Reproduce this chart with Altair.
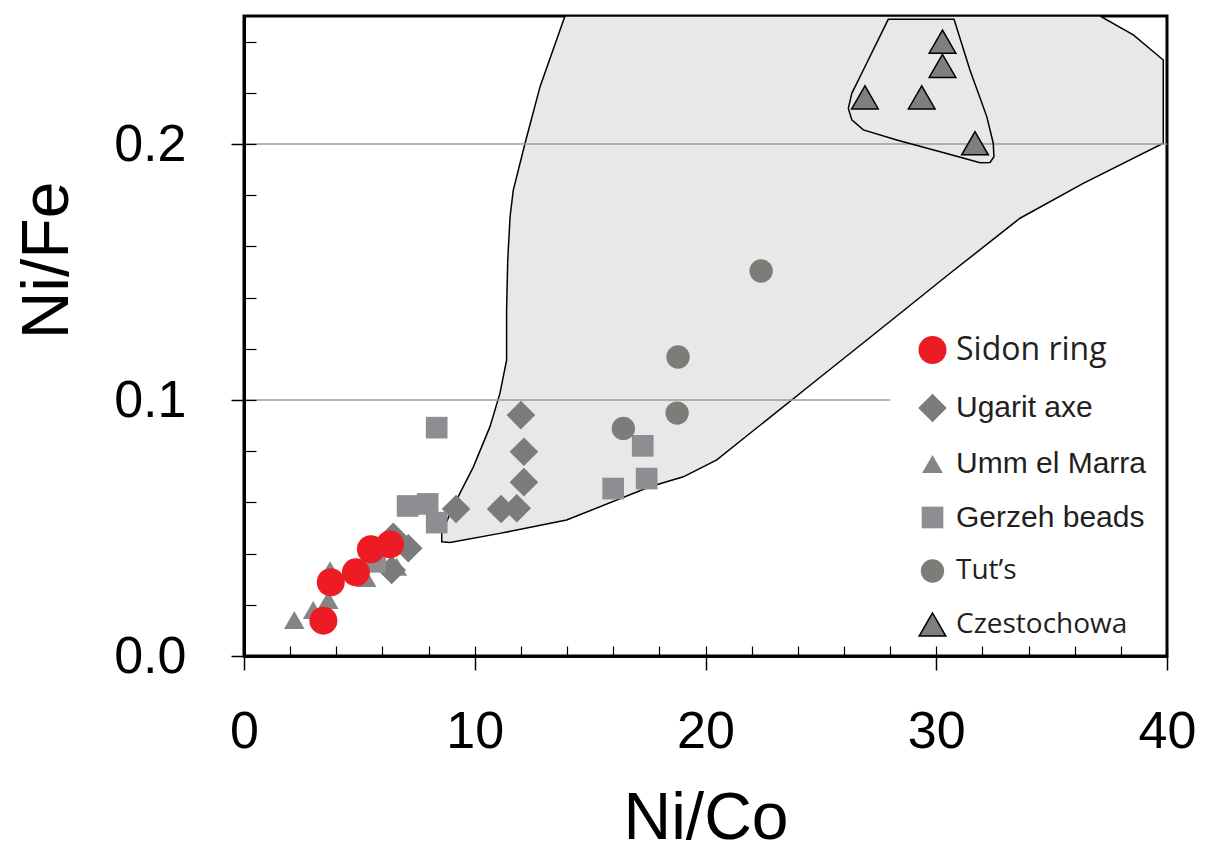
import altair as alt
import pandas as pd

# ---- data ----
sidon_x = [3.44, 3.76, 4.85, 5.50, 6.33]
sidon_y = [0.0138, 0.0288, 0.0327, 0.0417, 0.0436]
ugarit_x = [12.00, 12.13, 12.13, 9.19, 11.14, 11.82, 7.12, 6.40, 6.47]
ugarit_y = [0.0941, 0.0798, 0.0679, 0.0574, 0.0574, 0.0577, 0.0421, 0.0336, 0.0466]
umm_x = [2.18, 3.00, 3.65, 3.73, 5.29, 6.62]
umm_y = [0.0141, 0.0180, 0.0219, 0.0335, 0.0305, 0.0349]
gerzeh_x = [8.35, 17.28, 16.00, 17.45, 7.09, 7.96, 8.35, 5.68]
gerzeh_y = [0.0892, 0.0821, 0.0654, 0.0693, 0.0586, 0.0594, 0.0521, 0.0368]
tut_x = [22.41, 18.81, 18.77, 16.44]
tut_y = [0.1504, 0.1168, 0.0949, 0.0889]
czest_x = [30.27, 30.27, 26.91, 29.37, 31.68]
czest_y = [0.2400, 0.2305, 0.2182, 0.2182, 0.2003]

# outlined field (shaded region)
field_x = [13.91, 37.10, 38.54, 39.84, 39.84, 36.37, 33.63, 30.60, 27.71, 24.82, 21.93,
           20.49, 19.04, 17.59, 13.98, 11.09, 8.93, 8.57, 8.57, 8.93, 9.36, 9.94, 10.66,
           11.09, 11.38, 11.38, 11.43, 11.53, 11.67, 12.18, 12.83]
field_y = [0.25, 0.25, 0.2426, 0.2328, 0.2003, 0.1846, 0.171, 0.1495, 0.1286, 0.1078, 0.087,
           0.0766, 0.07, 0.0661, 0.0531, 0.0479, 0.0443, 0.0446, 0.0479, 0.0557, 0.0636, 0.0739,
           0.0896, 0.1026, 0.1156, 0.1352, 0.1547, 0.1716, 0.182, 0.2003, 0.2224]
# Czestochowa outline
cz_x = [27.92, 30.77, 31.46, 32.19, 32.47, 32.50, 32.33, 31.90, 30.45, 28.29, 26.84, 26.34,
        26.19, 26.34, 26.84]
cz_y = [0.2487, 0.2487, 0.2289, 0.2107, 0.2003, 0.195, 0.1928, 0.1927, 0.1963, 0.2016, 0.2055,
        0.2094, 0.2139, 0.2198, 0.2289]

grid_y = [0.2, 0.1]
grid_x_end = [40, 28]

x_major = [0, 10, 20, 30, 40]
x_minor = list(range(0, 41, 2))
y_major = [0.0, 0.1, 0.2]
y_minor = [round(v * 0.02, 2) for v in range(13)]

groups = ["Sidon ring", "Ugarit axe", "Umm el Marra", "Gerzeh beads", "Tut\u2019s", "Czestochowa"]
colors = ["#ed1c24", "#7b7b7b", "#858585", "#8e8e92", "#7c7c79", "#7f7f7f"]
shapes = ["circle", "diamond", "triangle-up", "square", "circle", "triangle-up"]
sizes = [784, 820, 430, 470, 545, 710]
strokes = ["transparent", "transparent", "transparent", "transparent", "transparent", "black"]

# ---- tables ----
draw_order = [
    ("Umm el Marra", umm_x, umm_y),
    ("Ugarit axe", ugarit_x, ugarit_y),
    ("Gerzeh beads", gerzeh_x, gerzeh_y),
    ("Tut\u2019s", tut_x, tut_y),
    ("Czestochowa", czest_x, czest_y),
    ("Sidon ring", sidon_x, sidon_y),
]
rows = []
for g, xs, ys in draw_order:
    for a, b in zip(xs, ys):
        rows.append({"group": g, "nico": a, "nife": b})
pts = pd.DataFrame(rows)
field = pd.DataFrame({"x": field_x, "y": field_y, "i": list(range(len(field_x)))})
czo = pd.DataFrame({"x": cz_x, "y": cz_y, "i": list(range(len(cz_x)))})
grid = pd.DataFrame({"gy": grid_y, "x0": [0] * len(grid_y), "x1": grid_x_end})

xscale = alt.Scale(domain=[0, 40], nice=False, zero=False)
yscale = alt.Scale(domain=[0, 0.25], nice=False, zero=False)
FONT = "Liberation Sans"

main_x_axis = alt.Axis(orient="bottom", values=x_major, tickSize=14, tickWidth=1.5, tickColor="black",
                       domainColor="black", domainWidth=3, labelFont=FONT, labelFontSize=52,
                       labelColor="black", labelPadding=36, labelFlush=False, labelOverlap=False,
                       grid=False, title="Ni/Co", titleFont=FONT, titleFontSize=66,
                       titleFontWeight="normal", titleColor="black", titleY=182,
                       titleBaseline="alphabetic", zindex=1)
main_y_axis = alt.Axis(orient="left", values=y_major, format=".1f", tickSize=13, tickWidth=1.5,
                       tickColor="black", domainColor="black", domainWidth=3, labelFont=FONT,
                       labelFontSize=52, labelColor="black", labelPadding=45, labelOverlap=False,
                       labelFlush=False, grid=False, title="Ni/Fe", titleFont=FONT, titleFontSize=66,
                       titleFontWeight="normal", titleColor="black", titleX=-177, titleY=244,
                       titleAngle=270, titleAlign="center", titleBaseline="alphabetic", zindex=1)
minor_x_axis = alt.Axis(orient="bottom", values=x_minor, tickSize=10, tickWidth=1.2, tickColor="black",
                        offset=-10, labels=False, domain=False, grid=False, title=None, zindex=1)
minor_y_axis = alt.Axis(orient="left", values=y_minor, tickSize=12, tickWidth=1.2, tickColor="black",
                        offset=-12, labels=False, domain=False, grid=False, title=None, zindex=1)

region = alt.Chart(field).mark_line(
    interpolate="linear-closed", fill="#e8e8e8", stroke="black", strokeWidth=1.5
).encode(
    x=alt.X("x:Q", scale=xscale, axis=main_x_axis),
    y=alt.Y("y:Q", scale=yscale, axis=main_y_axis),
    order=alt.Order("i:Q"),
)

gridlines = alt.Chart(grid).mark_rule(color="#9b9b9b", strokeWidth=1.5).encode(
    x=alt.X("x0:Q", scale=xscale, axis=None),
    x2="x1:Q",
    y=alt.Y("gy:Q", scale=yscale, axis=None),
)

cz_outline = alt.Chart(czo).mark_line(
    interpolate="linear-closed", stroke="black", strokeWidth=1.5
).encode(
    x=alt.X("x:Q", scale=xscale, axis=None),
    y=alt.Y("y:Q", scale=yscale, axis=None),
    order=alt.Order("i:Q"),
)

label_font = ("indexof(['Sidon ring','Tut\u2019s','Czestochowa'], datum.value) >= 0 "
              "? 'Open Sans' : 'Liberation Sans'")
label_size = ("datum.value == 'Sidon ring' ? 32 : "
              "(datum.value == 'Tut\u2019s' || datum.value == 'Czestochowa' ? 28 : 30)")
label_text = ("(datum.value == 'Tut\u2019s' || datum.value == 'Czestochowa') "
              "? ' ' + datum.label : datum.label")

legend = alt.Legend(orient="none", legendX=673, legendY=319, title=None, padding=0, rowPadding=23.5,
                    labelOffset=8, labelLimit=400, labelColor="#231f20",
                    labelExpr=label_text,
                    labelFont=alt.ExprRef(expr=label_font),
                    labelFontSize=alt.ExprRef(expr=label_size),
                    symbolStrokeWidth=1.5)

points = alt.Chart(pts).mark_point(filled=True, opacity=1, strokeWidth=1.5).encode(
    x=alt.X("nico:Q", scale=xscale, axis=minor_x_axis),
    y=alt.Y("nife:Q", scale=yscale, axis=minor_y_axis),
    color=alt.Color("group:N", scale=alt.Scale(domain=groups, range=colors), legend=legend),
    shape=alt.Shape("group:N", scale=alt.Scale(domain=groups, range=shapes), legend=legend),
    size=alt.Size("group:N", scale=alt.Scale(type="ordinal", domain=groups, range=sizes), legend=legend),
    stroke=alt.Stroke("group:N", scale=alt.Scale(domain=groups, range=strokes), legend=legend),
)

chart = alt.layer(region, gridlines, cz_outline, points).resolve_scale(
    x="shared", y="shared"
).resolve_axis(
    x="independent", y="independent"
).properties(
    width=923, height=640,
    padding={"left": 236, "top": 8, "right": 30, "bottom": 184},
    autosize=alt.AutoSizeParams(type="none"),
).configure_view(stroke="black", strokeWidth=3)

chart.save("out.html", embed_options={"renderer": "svg", "actions": False})
